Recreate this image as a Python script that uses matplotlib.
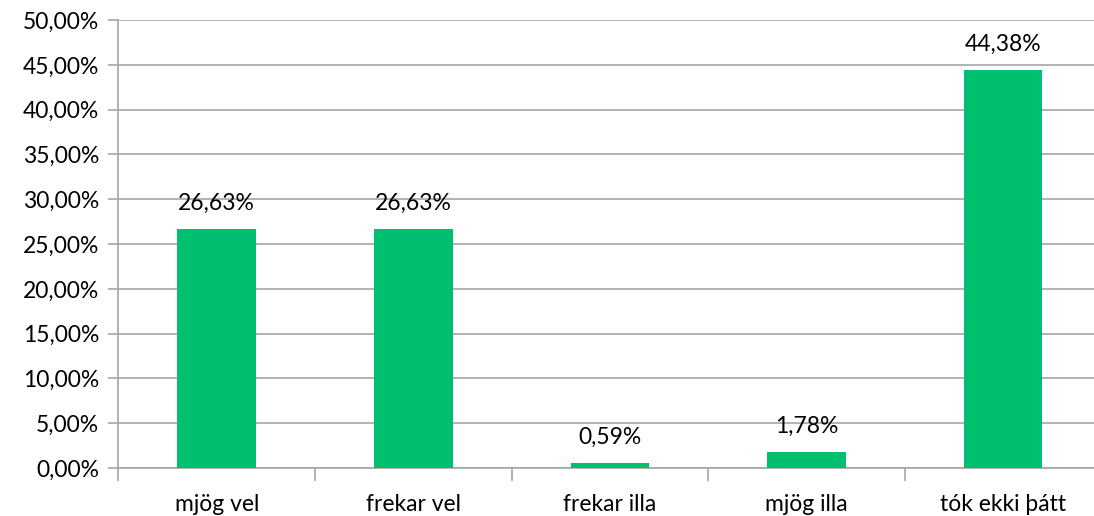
import matplotlib.pyplot as plt
import numpy as np

# gögn
categories = ["mjög vel", "frekar vel", "frekar illa", "mjög illa", "tók ekki þátt"]
values = [26.63, 26.63, 0.59, 1.78, 44.38]
y_ticks = [0, 5, 10, 15, 20, 25, 30, 35, 40, 45, 50]

plt.rcParams["font.family"] = ["Lato", "DejaVu Sans"]

fig = plt.figure(figsize=(10.94, 5.16), dpi=100)
ax = fig.add_axes([0.1083, 0.093, 0.8985, 0.868])

x = np.arange(len(categories))
bars = ax.bar(x, values, width=0.40, color="#00BF6F", zorder=3)

# data labels
for rect, val in zip(bars, values):
    ax.annotate(
        f"{val:.2f}%".replace(".", ","),
        (rect.get_x() + rect.get_width() / 2, rect.get_height()),
        xytext=(0, 11), textcoords="offset points",
        ha="center", va="bottom", fontsize=16.5, color="#000000"
    )

ax.set_xlim(-0.5, len(categories) - 0.5)
ax.set_ylim(0, 50)

ax.set_yticks(y_ticks)
ax.set_yticklabels([f"{t:.2f}%".replace(".", ",") for t in y_ticks], fontsize=16.5)
ax.yaxis.grid(True, color="#A6A6A6", linewidth=1.2, zorder=0)
ax.tick_params(axis="y", length=7, color="#A6A6A6", width=1.2, pad=7)

# category labels at centres, tick marks between categories
ax.set_xticks(x)
ax.set_xticklabels(categories, fontsize=16.5)
ax.tick_params(axis="x", which="major", length=0, pad=19)
ax.set_xticks(np.arange(-0.5, len(categories)), minor=True)
ax.tick_params(axis="x", which="minor", length=9, color="#A6A6A6", width=1.2)

for side in ["top", "right"]:
    ax.spines[side].set_visible(False)
ax.spines["left"].set_color("#A6A6A6")
ax.spines["bottom"].set_color("#A6A6A6")
ax.spines["left"].set_linewidth(1.2)
ax.spines["bottom"].set_linewidth(1.2)

fig.savefig("out.png", dpi=100)
